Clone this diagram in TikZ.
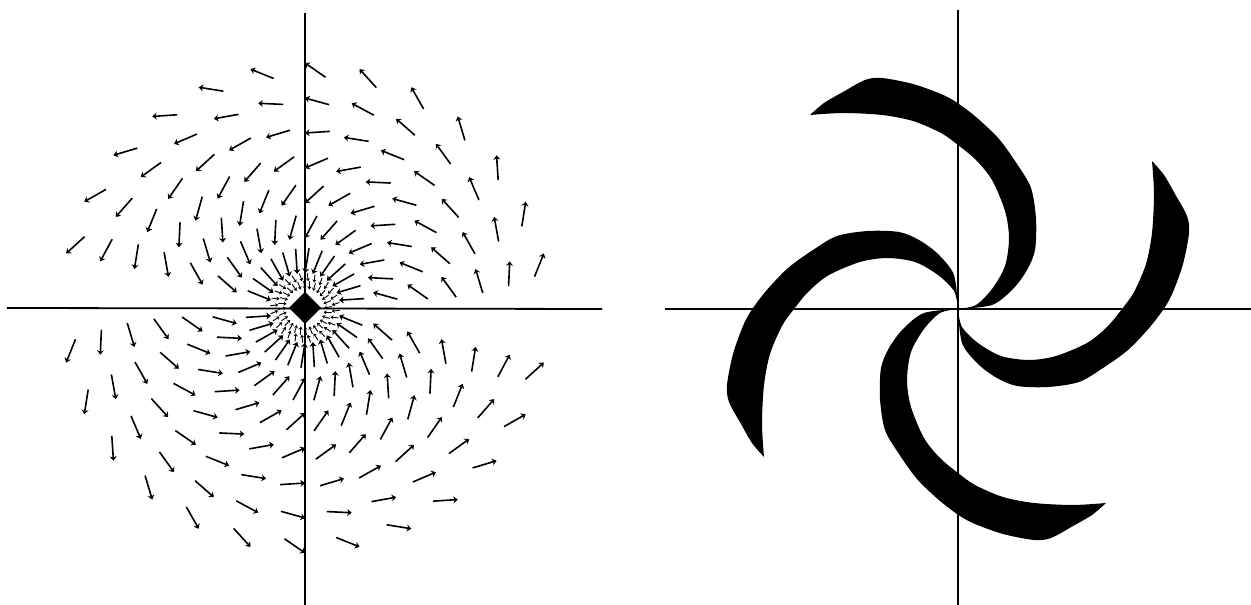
\documentclass[tikz,border=0pt]{standalone}
\usetikzlibrary{arrows.meta}
\begin{document}
\begin{tikzpicture}[x=1pt,y=1pt,>={Stealth[length=4.5pt,width=7pt]},
  axis/.style={line width=1.8pt},
  vec/.style={<-, line width=1.6pt},
  smallvec/.style={<-, line width=0.9pt, >={Stealth[length=3pt,width=4pt]}}]
 \useasboundingbox (0,0) rectangle (1251,605);
 % left: the vector field
 \draw[axis] (7,297) -- (602,296);
 \draw[axis] (305,592) -- (305,0);
 \begin{scope}[shift={(305,297)}]
  \foreach \k in {1,...,7}
   \foreach \j in {1,...,13,15,16,...,27}{
    \pgfmathsetmacro\r{35*\k}
    \pgfmathsetmacro\t{360*\j/28}
    \pgfmathsetmacro\p{\t+190-0.55*\r}
    \draw[vec] (\t:\r) -- ++(\p+180:25);
   }
  \foreach \j in {0,...,27}{
   \pgfmathsetmacro\t{360*\j/28}
   \draw[smallvec] (\t:19) -- ++(\t+10:8);
   \draw[smallvec] (\t+6:27) -- ++(\t+20:8);
  }
  \fill (0,16) -- (16,0) -- (0,-16) -- (-16,0) -- cycle;
 \end{scope}
 % right: the pinwheel
 \draw[axis, line width=1.4pt] (665,296) -- (1251,296);
 \draw[axis, line width=1.4pt] (958,595) -- (958,0);
 \begin{scope}[shift={(958,296)}]
  \foreach \a in {0,90,180,270}
   \fill[rotate=\a] plot[smooth] coordinates {(0,0) (34,4) (55,20) (69,39) (77,59)
     (78,90) (73,121) (59,145) (41,170) (18,192) (-2,207) (-17,215) (-45,225)
     (-76,231) (-93,229) (-115,217) (-134,206) (-148,194)}
    -- plot[smooth] coordinates {(-148,194) (-115,196) (-76,194) (-45,188)
     (-17,176) (0,164) (18,149) (34,129) (47,98) (51,71) (47,43) (34,20)
     (18,4) (0,0)} -- cycle;
 \end{scope}
\end{tikzpicture}
\end{document}
